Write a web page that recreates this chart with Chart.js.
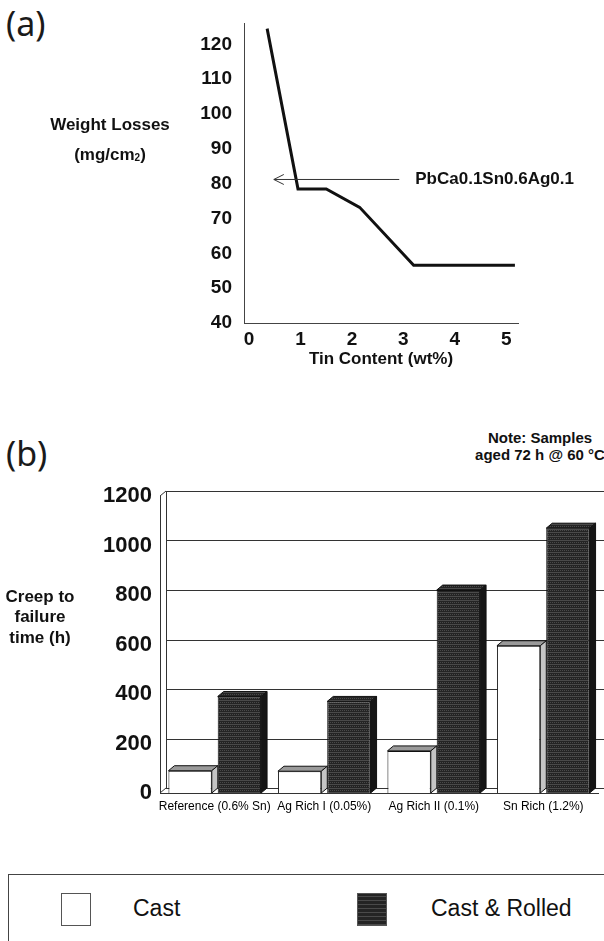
<!DOCTYPE html>
<html>
<head>
<meta charset="utf-8">
<title>Tin content and creep</title>
<script src="https://cdn.jsdelivr.net/npm/chart.js@4.4.0/dist/chart.umd.min.js"></script>
<style>
  html, body { margin: 0; padding: 0; background: #fff; }
  body { position: relative; width: 604px; height: 941px; overflow: hidden; font-family: 'Liberation Sans', Arial, sans-serif; color: #111; }
  .abs { position: absolute; }
  .panel { font-family: 'Noto Sans', 'DejaVu Sans', sans-serif; font-size: 34px; font-weight: 400; line-height: 34px; color: #1a1a1a; }
  #note { left: 468px; top: 429px; width: 144px; text-align: center; font-weight: bold; font-size: 15px; line-height: 17px; }
  #legendBox { left: 8px; top: 874px; width: 700px; height: 120px; border: 1px solid #444; box-sizing: border-box; }
  .swatch { width: 30px; height: 33px; border: 1px solid #555; box-sizing: border-box; }
  .legText { font-size: 23px; line-height: 32px; }
</style>
</head>
<body>
<div class="abs panel" style="left:6px; top:6px;">(a)</div>
<canvas id="chartA" class="abs" style="left:0; top:0;" width="604" height="380"></canvas>

<div class="abs panel" style="left:6px; top:436px;">(b)</div>
<div id="note" class="abs">Note: Samples<br>aged 72 h @ 60 °C</div>
<canvas id="chartB" class="abs" style="left:0; top:420px;" width="630" height="410"></canvas>

<div id="legendBox" class="abs"></div>

<script>
// (a) weight losses vs tin content
const tinContent = [0.35, 0.95, 1.5, 2.15, 3.2, 5.17];
const weightLoss = [124.5, 78.5, 78.5, 73.2, 56.6, 56.6];
const tinTicks = [0, 1, 2, 3, 4, 5];
const lossTicks = [40, 50, 60, 70, 80, 90, 100, 110, 120];
const alloyLabel = 'PbCa0.1Sn0.6Ag0.1';
const alloyArrowY = 81.2;
const alloyArrowFrom = 2.92;
const alloyArrowTo = 0.48;

// (b) creep to failure
const alloys = ['Reference (0.6% Sn)', 'Ag Rich I (0.05%)', 'Ag Rich II (0.1%)', 'Sn Rich (1.2%)'];
const castHours = [90, 88, 170, 595];
const rolledHours = [390, 370, 820, 1070];
const creepTicks = [0, 200, 400, 600, 800, 1000, 1200];
const seriesNames = ['Cast', 'Cast & Rolled'];

const sans = 'Liberation Sans, Arial, sans-serif';

/**
 * Dark hatched fill used for the rolled bars
 */
function hatch () {
  const c = document.createElement('canvas');
  c.width = 4; c.height = 4;
  const g = c.getContext('2d');
  g.fillStyle = '#242424';
  g.fillRect(0, 0, 4, 4);
  g.fillStyle = '#4a4a4a';
  g.fillRect(0, 0, 4, 1);
  g.fillRect(0, 2, 1, 1);
  g.fillRect(2, 2, 1, 1);
  return g.createPattern(c, 'repeat');
}
const rolledFill = hatch();

/**
 * Axis title and arrow label for chart (a)
 */
const annotA = {
  id: 'annotA',
  afterDraw (chart) {
    const ctx = chart.ctx;
    const xs = chart.scales.x;
    const ys = chart.scales.y;
    ctx.save();
    ctx.fillStyle = '#111';
    ctx.textBaseline = 'middle';
    ctx.font = 'bold 17px ' + sans;
    ctx.textAlign = 'center';
    ctx.fillText('Weight Losses', 110, 125);
    // (mg/cm2) with a small 2
    const a = '(mg/cm';
    const wa = ctx.measureText(a).width;
    ctx.font = 'bold 10px ' + sans;
    const w2 = ctx.measureText('2').width;
    ctx.font = 'bold 17px ' + sans;
    const wc = ctx.measureText(')').width;
    const x0 = 110 - (wa + w2 + wc) / 2;
    ctx.textAlign = 'left';
    ctx.fillText(a, x0, 155);
    ctx.font = 'bold 10px ' + sans;
    ctx.fillText('2', x0 + wa, 158);
    ctx.font = 'bold 17px ' + sans;
    ctx.fillText(')', x0 + wa + w2, 155);

    // arrow
    const y = ys.getPixelForValue(alloyArrowY);
    const xa = xs.getPixelForValue(alloyArrowFrom);
    const xb = xs.getPixelForValue(alloyArrowTo);
    ctx.strokeStyle = '#333';
    ctx.lineWidth = 1;
    ctx.beginPath();
    ctx.moveTo(xa, y);
    ctx.lineTo(xb, y);
    ctx.moveTo(xb + 10, y - 5);
    ctx.lineTo(xb, y);
    ctx.lineTo(xb + 10, y + 5);
    ctx.stroke();
    ctx.font = 'bold 17px ' + sans;
    ctx.fillText(alloyLabel, xa + 16, y);
    ctx.restore();
  }
};

new Chart(document.getElementById('chartA'), {
  type: 'line',
  data: {
    datasets: [{
      data: tinContent.map((x, i) => ({ x: x, y: weightLoss[i] })),
      borderColor: '#111',
      borderWidth: 3,
      pointRadius: 0,
      tension: 0,
      fill: false
    }]
  },
  options: {
    responsive: false,
    animation: false,
    events: [],
    layout: { padding: { top: 13, right: 86, left: 0, bottom: 0 } },
    plugins: { legend: { display: false }, tooltip: { enabled: false } },
    scales: {
      x: {
        type: 'linear',
        min: -0.1,
        max: 5.23,
        afterBuildTicks: s => { s.ticks = tinTicks.map(v => ({ value: v })); },
        afterFit: s => { s.height = 57; },
        grid: { display: false, drawTicks: false },
        border: { display: true, color: '#444', width: 1 },
        ticks: { padding: 5, color: '#111', font: { family: sans, size: 19, weight: 'bold' } },
        title: { display: true, text: 'Tin Content (wt%)', color: '#111', padding: { top: 0, bottom: 10 }, font: { family: sans, size: 17, weight: 'bold' } }
      },
      y: {
        min: 40,
        max: 126,
        afterBuildTicks: s => { s.ticks = lossTicks.map(v => ({ value: v })); },
        afterFit: s => { s.width = 244; },
        grid: { display: false, drawTicks: false },
        border: { display: true, color: '#444', width: 1 },
        ticks: { padding: 12, color: '#111', font: { family: sans, size: 19, weight: 'bold' } }
      }
    }
  },
  plugins: [annotA]
});

/**
 * 3D look for chart (b): back wall grid, frame edges, bar tops and sides
 */
const D = { x: 6, y: 5 };
const box3d = {
  id: 'box3d',
  beforeDatasetsDraw (chart) {
    const ctx = chart.ctx;
    const ys = chart.scales.y;
    const a = chart.chartArea;
    ctx.save();
    ctx.strokeStyle = '#333';
    ctx.lineWidth = 1;
    ctx.beginPath();
    creepTicks.forEach(v => {
      const y = Math.round(ys.getPixelForValue(v) - D.y) + 0.5;
      ctx.moveTo(a.left + D.x, y);
      ctx.lineTo(a.right + 40, y);
    });
    // back wall left edge and joining diagonals
    ctx.moveTo(a.left + D.x + 0.5, a.top - D.y);
    ctx.lineTo(a.left + D.x + 0.5, a.bottom - D.y);
    ctx.moveTo(a.left, a.top);
    ctx.lineTo(a.left + D.x, a.top - D.y);
    ctx.moveTo(a.left, a.bottom);
    ctx.lineTo(a.left + D.x, a.bottom - D.y);
    ctx.stroke();
    ctx.restore();
  },
  afterDatasetsDraw (chart) {
    const ctx = chart.ctx;
    ctx.save();
    ctx.lineWidth = 1;
    ctx.strokeStyle = '#111';
    chart.data.datasets.forEach((ds, di) => {
      const meta = chart.getDatasetMeta(di);
      meta.data.forEach(bar => {
        const x1 = bar.x - bar.width / 2;
        const x2 = bar.x + bar.width / 2;
        const top = bar.y;
        const base = bar.base;
        // top
        ctx.beginPath();
        ctx.moveTo(x1, top);
        ctx.lineTo(x1 + D.x, top - D.y);
        ctx.lineTo(x2 + D.x, top - D.y);
        ctx.lineTo(x2, top);
        ctx.closePath();
        ctx.fillStyle = di === 0 ? '#9a9a9a' : rolledFill;
        ctx.fill();
        ctx.stroke();
        // side
        ctx.beginPath();
        ctx.moveTo(x2, top);
        ctx.lineTo(x2 + D.x, top - D.y);
        ctx.lineTo(x2 + D.x, base - D.y);
        ctx.lineTo(x2, base);
        ctx.closePath();
        ctx.fillStyle = di === 0 ? '#c4c4c4' : '#151515';
        ctx.fill();
        ctx.stroke();
      });
    });
    // y title
    ctx.fillStyle = '#111';
    ctx.textAlign = 'center';
    ctx.textBaseline = 'middle';
    ctx.font = 'bold 17px ' + sans;
    ['Creep to', 'failure', 'time (h)'].forEach((t, i) => ctx.fillText(t, 40, 177 + i * 20.5));
    ctx.restore();
  }
};

const chartB = new Chart(document.getElementById('chartB'), {
  type: 'bar',
  data: {
    labels: alloys,
    datasets: [{
      label: seriesNames[0],
      data: castHours,
      backgroundColor: '#ffffff',
      borderColor: '#111',
      borderWidth: 1
    },
    {
      label: seriesNames[1],
      data: rolledHours,
      backgroundColor: rolledFill,
      borderColor: '#111',
      borderWidth: 1
    }]
  },
  options: {
    responsive: false,
    animation: false,
    events: [],
    layout: { padding: { top: 76, right: 32, left: 0, bottom: 0 } },
    datasets: { bar: { categoryPercentage: 0.9, barPercentage: 0.88 } },
    plugins: { legend: { display: false }, tooltip: { enabled: false } },
    scales: {
      x: {
        afterFit: s => { s.height = 37; },
        grid: { display: false, drawTicks: false },
        border: { display: true, color: '#333', width: 1 },
        ticks: { padding: 6, color: '#000', maxRotation: 0, autoSkip: false, font: { family: sans, size: 12 } }
      },
      y: {
        min: 0,
        max: 1200,
        afterBuildTicks: s => { s.ticks = creepTicks.map(v => ({ value: v })); },
        afterFit: s => { s.width = 160; },
        grid: { display: false, drawTicks: false },
        border: { display: true, color: '#333', width: 1 },
        ticks: { padding: 8, color: '#111', callback: v => String(v), font: { family: sans, size: 22, weight: 'bold' } }
      }
    }
  },
  plugins: [box3d]
});

/**
 * Legend box under chart (b), built from the datasets
 */
const legendBox = document.getElementById('legendBox');
const swatchX = [60, 356];
const textX = [132, 430];
chartB.data.datasets.forEach((ds, i) => {
  const sw = document.createElement('div');
  sw.className = 'abs swatch';
  sw.style.left = (swatchX[i] - 8) + 'px';
  sw.style.top = '18px';
  if (i === 0) {
    sw.style.background = '#fff';
  } else {
    sw.style.background = 'repeating-linear-gradient(0deg, #4a4a4a 0 1px, #242424 1px 4px)';
  }
  legendBox.appendChild(sw);
  const t = document.createElement('div');
  t.className = 'abs legText';
  t.style.left = (textX[i] - 8) + 'px';
  t.style.top = '17px';
  t.textContent = ds.label;
  legendBox.appendChild(t);
});
</script>
</body>
</html>
